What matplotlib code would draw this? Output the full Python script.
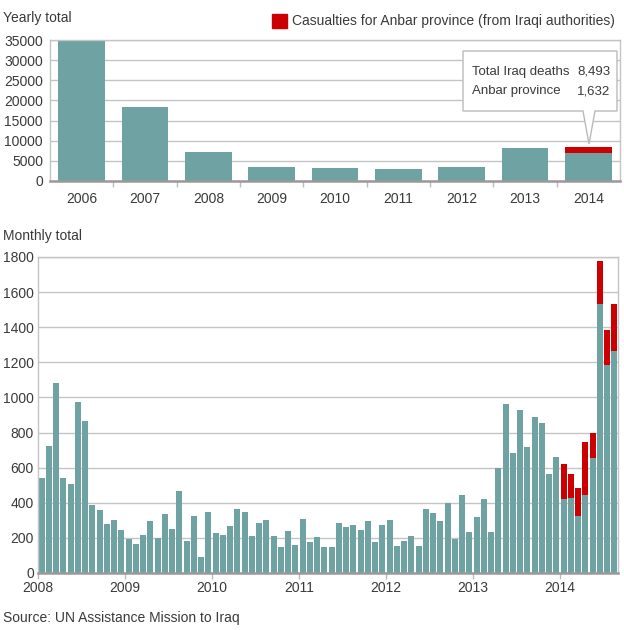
import matplotlib.pyplot as plt
from matplotlib.patches import Polygon, Rectangle

plt.rcParams['font.family'] = ['Liberation Sans', 'DejaVu Sans']

TEAL = '#6fa2a2'
RED = '#cc0000'
GRID = '#c4c4c4'
TXT = '#3a3a3a'

# Yearly totals (UN figures), Anbar added on top for 2014
years = ['2006', '2007', '2008', '2009', '2010', '2011', '2012', '2013', '2014']
yearly_un = [34800, 18300, 7180, 3470, 3220, 2970, 3470, 8170, 6861]
yearly_anbar = [0, 0, 0, 0, 0, 0, 0, 0, 1632]

# Monthly totals Jan 2008 - Aug 2014
monthly_un = [
    540, 723, 1083, 540, 506, 974, 866, 386, 358, 278, 301, 244,      # 2008
    192, 164, 215, 295, 198, 335, 249, 466, 181, 324, 89, 346,        # 2009
    226, 215, 266, 363, 346, 209, 284, 301, 209, 147, 238, 158,       # 2010
    306, 175, 204, 147, 147, 284, 261, 272, 244, 295, 175, 272,       # 2011
    301, 152, 181, 209, 152, 363, 341, 295, 398, 192, 443, 232,       # 2012
    318, 421, 232, 598, 963, 683, 929, 717, 889, 854, 563, 660,       # 2013
    421, 426, 324, 443, 655, 1534, 1186, 1265,                        # 2014
]
monthly_anbar = [0] * 72 + [199, 137, 159, 303, 142, 245, 199, 269]
year_labels = ['2008', '2009', '2010', '2011', '2012', '2013', '2014']

W, H = 624, 630
fig = plt.figure(figsize=(W / 100, H / 100), dpi=100)


def fx(x):
    return x / W


def fy(y):
    return 1 - y / H


def style_axes(ax):
    ax.set_axisbelow(True)
    ax.yaxis.grid(True, color=GRID, linewidth=1)
    for s in ['left', 'right', 'top']:
        ax.spines[s].set_color(GRID)
        ax.spines[s].set_linewidth(1)
    ax.spines['bottom'].set_color('#999999')
    ax.spines['bottom'].set_linewidth(1.8)
    ax.tick_params(axis='y', length=0, labelsize=10, labelcolor=TXT)
    ax.tick_params(axis='x', which='both', labelsize=10, labelcolor=TXT, color='#bbbbbb')


# ---- yearly chart ----
ax1 = fig.add_axes([fx(50), fy(181), fx(620) - fx(50), fy(40) - fy(181)])
xs = range(len(years))
ax1.bar(xs, yearly_un, width=0.74, color=TEAL)
ax1.bar(xs, yearly_anbar, width=0.74, bottom=yearly_un, color=RED)
ax1.set_xlim(-0.5, len(years) - 0.5)
ax1.set_ylim(0, 35000)
ax1.set_yticks(range(0, 35001, 5000))
ax1.set_xticks(list(xs))
ax1.set_xticklabels(years)
ax1.set_xticks([i + 0.5 for i in range(len(years) - 1)], minor=True)
style_axes(ax1)
ax1.tick_params(axis='x', which='major', length=0, pad=8)
ax1.tick_params(axis='x', which='minor', length=4, width=1)
ax1.tick_params(axis='y', pad=5)

fig.text(fx(3), fy(18), 'Yearly total', fontsize=10, color=TXT, va='center')
fig.patches.append(Rectangle((fx(272), fy(28)), fx(15), fy(14) - fy(28),
                             transform=fig.transFigure, color=RED))
fig.text(fx(292), fy(21), 'Casualties for Anbar province (from Iraqi authorities)',
         fontsize=10, color=TXT, va='center')

# callout box
pts = [(463, 51), (617, 51), (617, 111), (595, 111), (589, 144), (583, 111), (463, 111)]
fig.patches.append(Polygon([(fx(x), fy(y)) for x, y in pts], closed=True,
                           transform=fig.transFigure, facecolor='white',
                           edgecolor='#bbbbbb', linewidth=1, zorder=5))
total_2014 = yearly_un[-1] + yearly_anbar[-1]
fig.text(fx(472), fy(72), 'Total Iraq deaths', fontsize=9.5, color=TXT, va='center', zorder=6)
fig.text(fx(577), fy(72), f'{total_2014:,}', fontsize=9.5, color=TXT, va='center', zorder=6)
fig.text(fx(472), fy(91), 'Anbar province', fontsize=9.5, color=TXT, va='center', zorder=6)
fig.text(fx(577), fy(91), f'{yearly_anbar[-1]:,}', fontsize=9.5, color=TXT, va='center', zorder=6)

# ---- monthly chart ----
ax2 = fig.add_axes([fx(38), fy(573), fx(618) - fx(38), fy(257) - fy(573)])
ms = [i + 0.5 for i in range(len(monthly_un))]
ax2.bar(ms, monthly_un, width=0.83, color=TEAL)
ax2.bar(ms, monthly_anbar, width=0.83, bottom=monthly_un, color=RED)
ax2.set_xlim(0, 80)
ax2.set_ylim(0, 1800)
ax2.set_yticks(range(0, 1801, 200))
ax2.set_xticks([12 * i for i in range(len(year_labels))])
ax2.set_xticklabels(year_labels)
style_axes(ax2)
ax2.tick_params(axis='x', length=4, width=1, pad=2)
ax2.tick_params(axis='y', pad=3)

fig.text(fx(3), fy(236), 'Monthly total', fontsize=10, color=TXT, va='center')
fig.text(fx(3), fy(618), 'Source: UN Assistance Mission to Iraq', fontsize=10,
         color=TXT, va='center')

fig.savefig('out.png', dpi=100)
